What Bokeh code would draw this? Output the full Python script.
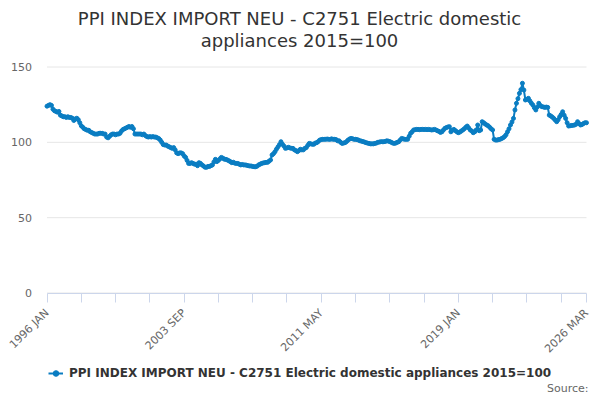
from bokeh.plotting import figure
from bokeh.models import (Range1d, FixedTicker, Label, Legend, LegendItem)
from bokeh.embed import file_html
from bokeh.resources import INLINE
from math import pi

TITLE_1 = "PPI INDEX IMPORT NEU - C2751 Electric domestic"
TITLE_2 = "appliances 2015=100"
SERIES_NAME = "PPI INDEX IMPORT NEU - C2751 Electric domestic appliances 2015=100"
SOURCE = "Source:"

MONTHS = ["JAN", "FEB", "MAR", "APR", "MAY", "JUN", "JUL", "AUG", "SEP", "OCT", "NOV", "DEC"]
START_YEAR = 1996
N_POINTS = 363
categories = [f"{START_YEAR + i // 12} {MONTHS[i % 12]}" for i in range(N_POINTS)]

values = [
    124, 124.5, 125, 124.5, 122, 121, 120.5, 120, 120.5, 118, 117.5, 117,
    117, 116.5, 117, 116.5, 116.5, 116, 114.5, 115.5, 116, 115, 113, 111,
    110, 109, 108.5, 108, 108, 107, 106.5, 106, 105.5, 105.5, 105.5, 106,
    106, 106, 105.5, 105.5, 103.5, 103, 104, 105, 105.5, 105.5, 105, 105.5,
    105.5, 106, 107.5, 108.5, 109, 109.5, 110, 110.5, 110, 110.5, 109, 105.5,
    105.5, 105.5, 105.5, 105.5, 105, 105.5, 104.5, 103.8, 103.5, 103.8, 103.5, 103.8,
    103.5, 103.5, 103, 102.5, 101.5, 100, 98.5, 98.2, 98.2, 97.5, 97, 96.5,
    96, 96.5, 95, 93, 92.5, 93, 93, 92.5, 91, 90, 88, 86,
    86, 86.5, 86, 85.5, 85.5, 84.5, 86.5, 86, 85, 84.3, 83.5, 83.4,
    84, 84, 84.5, 85, 87, 88.7, 87.2, 88, 89, 90, 89.5, 88.8,
    88.7, 88.3, 87.8, 87.2, 86.5, 86.8, 86.2, 86, 86, 85.5, 85, 85.3,
    85, 85, 84.8, 84.5, 84.3, 84.3, 84, 83.8, 83.8, 84.2, 85, 85.5,
    86, 86.3, 86.5, 86.7, 86.7, 87.5, 88.3, 91.6, 92.5, 93.8, 95.5, 97,
    98.5, 100.4, 98.7, 97.5, 96, 96.3, 96.7, 96.3, 96, 96, 95, 94.5,
    93.8, 94.5, 95.4, 95, 95, 96, 96.5, 98, 99.3, 99, 98.7, 98.7,
    99.5, 99.8, 100.5, 101.5, 101.8, 102, 102, 102, 102.2, 102, 102, 102.3,
    102, 102, 101.8, 101, 101, 100, 99.3, 99.5, 99.8, 100.5, 101.5, 102.2,
    102.6, 102.4, 102, 102, 101.8, 101.5, 101, 100.8, 100.5, 100.2, 99.8, 99.5,
    99.3, 99, 99, 99, 99.3, 99.5, 100, 100.2, 100.4, 100.4, 100.4, 100.6,
    101, 100.8, 100.5, 100, 99.5, 99.3, 99.5, 100, 100.4, 101.5, 102.6, 102.3,
    102, 102, 102, 104, 106, 107, 108.2, 108.4, 108.6, 108.6, 108.4, 108.6,
    108.6, 108.5, 108.6, 108.4, 108.6, 108.4, 108.2, 108.3, 108.6, 108.2, 107.7, 107.3,
    106.6, 107, 108.2, 109.3, 109.8, 110.2, 110.4, 107, 108, 108.6, 107.8, 107,
    106.4, 106.8, 107.5, 108.2, 109, 110, 110.8, 109.5, 108.2, 107.5, 106.4, 107,
    108.2, 111.5, 107.7, 108.2, 113.7, 113, 112.2, 111.5, 111, 110, 109, 108.2,
    102, 101.5, 101.5, 101.8, 102, 102.5, 103, 103.8, 105, 107, 109, 111.5,
    113.5, 115.9, 121.5, 125.9, 129, 132.5, 135, 139.2, 134.7, 128.1, 128.5, 129.2,
    127.5, 126, 124.8, 123, 121.5, 123.5, 125.9, 124.5, 123.7, 123.5, 123.2, 123.4,
    123.2, 118.1, 117.5, 116.8, 115.9, 114.8, 113.7, 115, 117, 118.5, 120.3, 118,
    115.9, 113, 110.8, 111, 111.2, 111.3, 111.5, 112, 113.7, 112.5, 111.5, 111.8,
    112.5, 113, 113,
]

y_ticks = [0, 50, 100, 150]
x_tick_step = 23
x_label_every = 4

FONT = "DejaVu Sans"
BLUE = "#0a7dc2"
W, H = 600, 400

# plot-area placement in canvas pixels
PL, PR, PT, PB = 46.5, 586.0, 66.5, 292.5

x = list(range(len(values)))
last = len(values) - 1
y_max = y_ticks[-1]
sx = (PR - PL) / last
sy = (PB - PT) / y_max
x_range = Range1d(-PL / sx, (W - PL) / sx)
y_range = Range1d(-(H - PB) / sy, PB / sy)

x_ticks = list(range(0, last - 10, x_tick_step)) + [last]
labelled = set(x_ticks[::x_label_every]) | {last}
overrides = {t: (categories[t] if t in labelled else "") for t in x_ticks}

p = figure(width=W, height=H, output_backend="svg", toolbar_location=None,
           tools="", x_range=x_range, y_range=y_range, title=None,
           min_border_left=0, min_border_right=0, min_border_top=0,
           min_border_bottom=0)
p.outline_line_color = None
p.background_fill_color = "white"
p.border_fill_color = "white"
p.xgrid.visible = False
p.ygrid.visible = False

# horizontal grid lines over the plot area
p.segment(x0=[0] * len(y_ticks), x1=[last] * len(y_ticks), y0=y_ticks, y1=y_ticks,
          line_color="#e6e6e6", line_width=1)

line_r = p.line(x, values, line_color=BLUE, line_width=2)
dot_r = p.scatter(x, values, size=4, fill_color=BLUE, line_color=BLUE)

ya = p.yaxis[0]
ya.fixed_location = 0
ya.bounds = (0, y_max)
ya.ticker = FixedTicker(ticks=y_ticks)
ya.axis_line_color = None
ya.major_tick_line_color = None
ya.minor_tick_line_color = None
ya.major_tick_out = 0
ya.major_tick_in = 0
ya.major_label_standoff = 15
ya.major_label_text_font = FONT
ya.major_label_text_font_size = "11px"
ya.major_label_text_color = "#666666"

xa = p.xaxis[0]
xa.fixed_location = 0
xa.bounds = (0, last)
xa.ticker = FixedTicker(ticks=x_ticks)
xa.major_label_overrides = overrides
xa.axis_line_color = "#ccd6eb"
xa.major_tick_line_color = "#ccd6eb"
xa.minor_tick_line_color = None
xa.major_tick_out = 9
xa.major_tick_in = 0
xa.major_label_orientation = pi / 4
xa.major_label_standoff = 9
xa.major_label_text_font = FONT
xa.major_label_text_font_size = "11px"
xa.major_label_text_color = "#666666"

# Title
for txt, yy in ((TITLE_1, 18), (TITLE_2, 40)):
    p.add_layout(Label(x=299, y=H - yy, x_units="screen", y_units="screen", text=txt,
                       text_align="center", text_baseline="middle",
                       text_font=FONT, text_font_size="18px", text_color="#333333"))

legend = Legend(items=[LegendItem(label=SERIES_NAME, renderers=[line_r, dot_r])],
                location=(48, H - 380), orientation="horizontal",
                glyph_width=15, glyph_height=14, label_standoff=6,
                padding=0, margin=0, spacing=0,
                border_line_color=None, background_fill_alpha=0,
                label_text_font=FONT, label_text_font_size="12px",
                label_text_font_style="bold", label_text_color="#333333",
                label_height=14)
p.add_layout(legend, "center")

p.add_layout(Label(x=588, y=H - 388, x_units="screen", y_units="screen", text=SOURCE,
                   text_align="right", text_baseline="middle",
                   text_font=FONT, text_font_size="11px", text_color="#666666"))

open("out.html", "w").write(file_html(p, INLINE))
